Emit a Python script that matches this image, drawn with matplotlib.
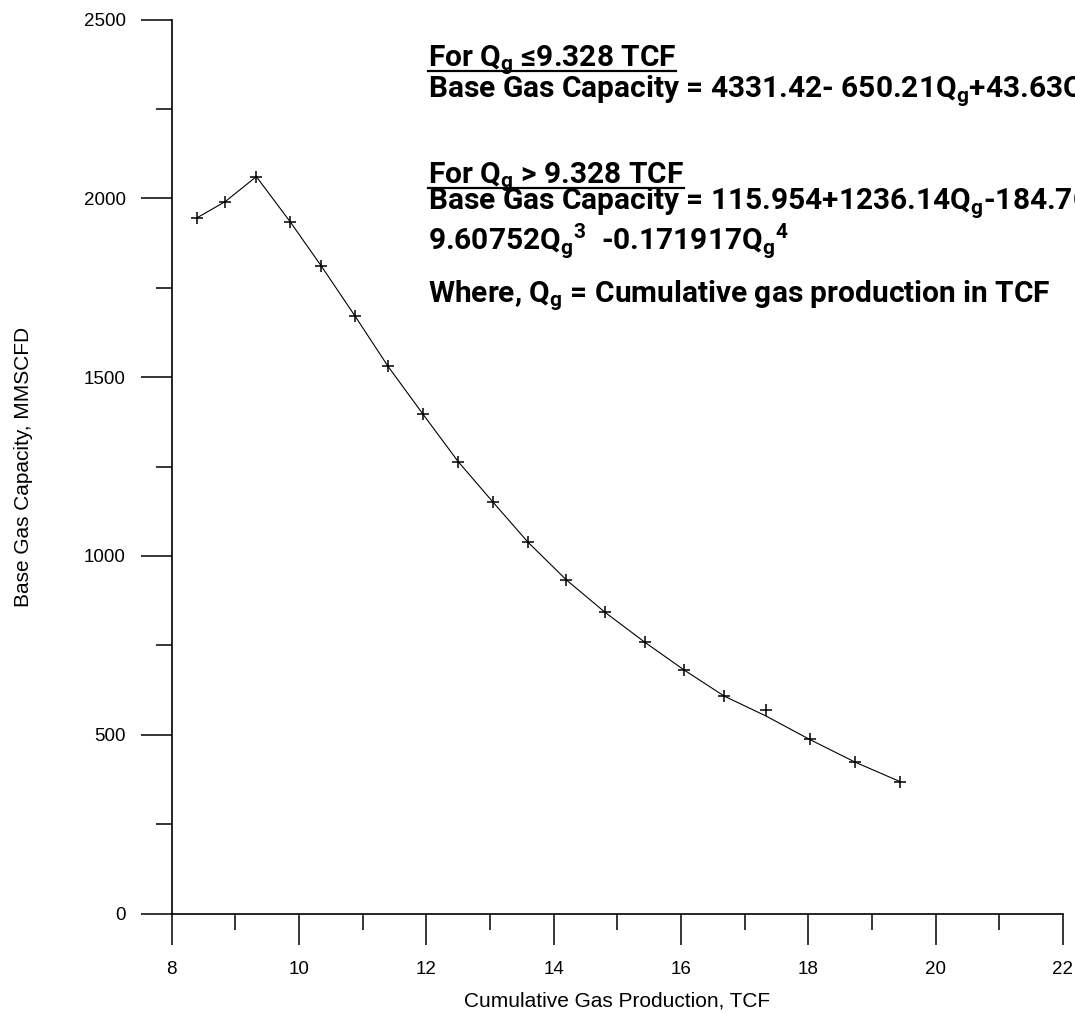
import matplotlib
matplotlib.use("Agg")
import matplotlib.pyplot as plt
from matplotlib.ticker import MultipleLocator
from matplotlib.lines import Line2D

# cumulative gas production (TCF) and base gas capacity (MMSCFD)
prod_tcf = [8.39, 8.84, 9.33, 9.86, 10.35, 10.88, 11.40, 11.95, 12.50, 13.05,
            13.60, 14.20, 14.81, 15.43, 16.05, 16.68, 17.34, 18.02, 18.74, 19.44]
capacity = [1945, 1991, 2061, 1935, 1811, 1671, 1530, 1396, 1264, 1150,
            1038, 933, 842, 759, 681, 608, 569, 487, 423, 369]
# fitted curve as drawn through the points
fit_capacity = [1945, 1991, 2061, 1935, 1811, 1671, 1530, 1396, 1264, 1150,
                1038, 933, 842, 759, 681, 608, 552, 487, 423, 369]

x_major = 2
x_minor = 1
y_major = 500
y_minor = 250

plt.rcParams["font.family"] = ["Liberation Sans", "DejaVu Sans"]
plt.rcParams["mathtext.default"] = "regular"

fig = plt.figure(figsize=(10.75, 10.13), dpi=100)
fig.patch.set_facecolor("white")
ax = fig.add_axes([0.1597, 0.0982, 0.8291, 0.8824])

ax.plot(prod_tcf, fit_capacity, color="black", lw=0.8, zorder=2)
ax.plot(prod_tcf, capacity, ls="none", marker="+", ms=9, mew=1.1, color="black", zorder=3)

ax.set_xlim(8, 22)
ax.set_ylim(0, 2500)
ax.xaxis.set_major_locator(MultipleLocator(x_major))
ax.xaxis.set_minor_locator(MultipleLocator(x_minor))
ax.yaxis.set_major_locator(MultipleLocator(y_major))
ax.yaxis.set_minor_locator(MultipleLocator(y_minor))

for side in ("top", "right"):
    ax.spines[side].set_visible(False)
for side in ("left", "bottom"):
    ax.spines[side].set_linewidth(1.2)

ax.tick_params(which="major", direction="out", length=22, width=1.1, labelsize=13.5)
ax.tick_params(which="minor", direction="out", length=11.5, width=1.1)
ax.tick_params(axis="x", which="major", pad=12)
ax.tick_params(axis="y", which="major", pad=11)

ax.set_xlabel("Cumulative Gas Production, TCF", fontsize=15)
ax.set_ylabel("Base Gas Capacity, MMSCFD", fontsize=15)
ax.xaxis.set_label_coords(0.5, -0.087)
ax.yaxis.set_label_coords(-0.156, 0.5)

# equation block, positioned in figure pixels
W, H = 1075.0, 1013.0
eq_font = ["Roboto", "Liberation Sans", "DejaVu Sans"]
lines = [
    (66, r"For Q$_g$ ≤9.328 TCF", True),
    (98, r"Base Gas Capacity = 4331.42- 650.21Q$_g$+43.63Q$_g$$^2$", False),
    (183, r"For Q$_g$ > 9.328 TCF", True),
    (210, r"Base Gas Capacity = 115.954+1236.14Q$_g$-184.7Q$_g$$^2$ +", False),
    (250, r"9.60752Q$_g$$^3$  -0.171917Q$_g$$^4$", False),
    (302, r"Where, Q$_g$ = Cumulative gas production in TCF", False),
]
texts = []
for ypix, s, under in lines:
    t = fig.text(428 / W, 1 - ypix / H, s, fontsize=21.5, fontweight="bold",
                 family=eq_font, ha="left", va="baseline", color="black")
    texts.append((t, ypix, under))

fig.canvas.draw()
renderer = fig.canvas.get_renderer()
for t, ypix, under in texts:
    if under:
        bb = t.get_window_extent(renderer)
        yl = 1 - (ypix + 5) / H
        fig.add_artist(Line2D([bb.x0 / W, bb.x1 / W], [yl, yl], color="black", lw=1.6,
                              transform=fig.transFigure))

fig.savefig("out.png", dpi=100, facecolor="white")
